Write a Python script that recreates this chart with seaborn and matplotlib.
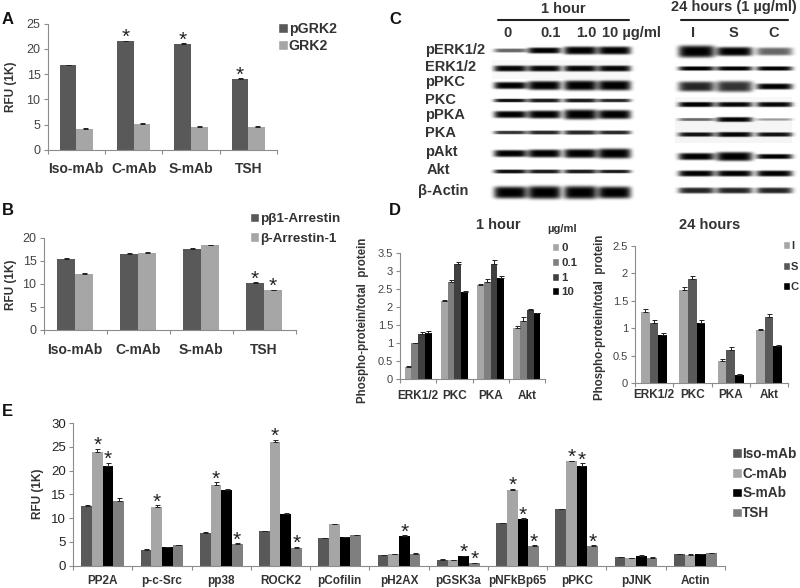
import numpy as np
import pandas as pd
import matplotlib
matplotlib.use("Agg")
import matplotlib.pyplot as plt
from matplotlib.container import BarContainer
import seaborn as sns

W, H = 800, 588
DARK, LIGHT, MID, BLACK = "#595959", "#a6a6a6", "#7f7f7f", "#000000"
TXT = "#333333"
AXC = "#8c8c8c"

# panel A
a_groups = ["Iso-mAb", "C-mAb", "S-mAb", "TSH"]
a_pgrk2 = [16.8, 21.5, 21.0, 14.0]
a_grk2 = [4.2, 5.2, 4.6, 4.6]
a_err_p = [0.05, 0.1, 0.05, 0.15]
a_err_g = [0.05, 0.1, 0.05, 0.05]
a_star_p = [0, 1, 1, 1]

# panel B
b_parr = [15.5, 16.6, 17.6, 10.2]
b_arr = [12.2, 16.8, 18.5, 8.6]
b_err_p = [0.15, 0.05, 0.15, 0.15]
b_err_a = [0.15, 0.15, 0.05, 0.1]
b_star_p = [0, 0, 0, 1]
b_star_a = [0, 0, 0, 1]

# panel D
d_groups = ["ERK1/2", "PKC", "PKA", "Akt"]
d1_0 = [0.33, 2.17, 2.6, 1.42]
d1_01 = [1.0, 2.7, 2.7, 1.62]
d1_1 = [1.25, 3.2, 3.18, 1.9]
d1_10 = [1.28, 2.42, 2.8, 1.82]
d1_err_0 = [0.02, 0.03, 0.03, 0.05]
d1_err_01 = [0.01, 0.04, 0.06, 0.1]
d1_err_1 = [0.04, 0.04, 0.12, 0.05]
d1_err_10 = [0.06, 0.03, 0.05, 0.02]
d2_i = [1.3, 1.7, 0.4, 0.97]
d2_s = [1.1, 1.9, 0.6, 1.2]
d2_c = [0.88, 1.1, 0.15, 0.67]
d2_err_i = [0.05, 0.05, 0.03, 0.01]
d2_err_s = [0.05, 0.04, 0.05, 0.05]
d2_err_c = [0.03, 0.05, 0.02, 0.02]

# panel E
e_groups = ["PP2A", "p-c-Src", "pp38", "ROCK2", "pCofilin", "pH2AX", "pGSK3a",
            "pNFkBp65", "pPKC", "pJNK", "Actin"]
e_iso = [12.5, 3.4, 6.9, 7.2, 5.8, 2.2, 1.3, 8.9, 11.9, 1.8, 2.4]
e_c = [23.8, 12.3, 17.0, 26.0, 8.7, 2.4, 1.2, 16.0, 22.0, 1.6, 2.3]
e_s = [21.0, 3.9, 16.0, 10.9, 6.0, 6.3, 2.0, 9.9, 21.0, 2.1, 2.5]
e_tsh = [13.5, 4.3, 4.6, 3.8, 6.4, 2.5, 0.5, 4.2, 4.2, 1.7, 2.6]
e_err_iso = [0.3, 0.05, 0.1, 0.05, 0.1, 0.1, 0.05, 0.05, 0.05, 0.1, 0.1]
e_err_c = [0.7, 0.4, 0.5, 0.4, 0.05, 0.1, 0.05, 0.1, 0.1, 0.05, 0.1]
e_err_s = [0.6, 0.1, 0.1, 0.1, 0.1, 0.05, 0.05, 0.05, 0.5, 0.1, 0.05]
e_err_tsh = [0.8, 0.1, 0.1, 0.1, 0.1, 0.1, 0.1, 0.1, 0.1, 0.1, 0.1]
e_star_c = [1, 1, 1, 1, 0, 0, 0, 1, 1, 0, 0]
e_star_s = [1, 0, 0, 0, 0, 1, 1, 1, 1, 0, 0]
e_star_tsh = [0, 0, 1, 1, 0, 0, 1, 1, 1, 0, 0]

# panel C: band half-thickness (px) and darkness per lane
blot_rows = ["pERK1/2", "ERK1/2", "pPKC", "PKC", "pPKA", "PKA", "pAkt", "Akt", "β-Actin"]
blot_1h_thick = [[2.0, 3.0, 4.0, 4.0], [3.0, 3.0, 3.0, 3.0], [3.5, 4.5, 5.0, 5.0],
                 [1.8, 2.0, 2.0, 1.8], [3.5, 4.0, 5.0, 4.5], [1.8, 2.0, 2.2, 2.0],
                 [3.5, 4.0, 4.5, 5.0], [2.0, 2.0, 2.0, 1.8], [6.0, 6.5, 6.5, 6.0]]
blot_1h_dark = [[0.6, 1.0, 1.0, 1.0], [0.95, 0.95, 0.95, 0.95], [1.0, 1.0, 1.0, 1.0],
                [0.95, 0.9, 0.9, 0.85], [1.0, 1.0, 1.0, 1.0], [0.8, 0.85, 0.85, 0.85],
                [1.0, 1.0, 1.0, 1.0], [0.95, 0.9, 0.9, 0.9], [1.0, 1.0, 1.0, 1.0]]
blot_24h_thick = [[6.0, 4.5, 4.0], [2.2, 2.2, 2.2], [5.0, 5.5, 3.0], [2.5, 2.5, 2.5],
                  [1.5, 2.5, 1.2], [2.2, 2.5, 2.2], [3.5, 4.5, 2.5], [3.0, 3.0, 3.0],
                  [3.0, 3.0, 3.0]]
blot_24h_dark = [[1.0, 1.0, 0.6], [1.0, 1.0, 1.0], [0.85, 0.8, 1.0], [1.0, 0.95, 0.95],
                 [0.55, 0.95, 0.35], [0.9, 0.95, 0.9], [1.0, 1.0, 1.0], [1.0, 1.0, 1.0],
                 [0.85, 0.85, 0.85]]
lanes_1h = ["0", "0.1", "1.0", "10 µg/ml"]
lanes_24h = ["I", "S", "C"]

sns.set_theme(style="white", rc={"axes.linewidth": 0.8})
plt.rcParams["font.family"] = ["Liberation Sans", "DejaVu Sans"]
fig = plt.figure(figsize=(W / 100, H / 100), dpi=100, facecolor="white")


def px_text(x, y, s, size=10, ha="left", va="center", color=TXT, weight="bold", **kw):
    fig.text(x / W, 1 - y / H, s, fontsize=size, ha=ha, va=va, color=color,
             fontweight=weight, **kw)


def bars_of(ax):
    return [c for c in ax.containers if isinstance(c, BarContainer)]


def panel(box, groups, series, errs, stars, colors, ymax, ystep, width, xsize, ysize,
          xpad=6, star_size=15, ycolor="#444444"):
    left, top, right, bottom = box
    ax = fig.add_axes([left / W, 1 - bottom / H, (right - left) / W, (bottom - top) / H])
    df = pd.DataFrame({
        "group": [g for _ in series for g in groups],
        "name": [n for n in series for _ in groups],
        "value": [v for vals in series.values() for v in vals],
    })
    sns.barplot(df, x="group", y="value", hue="name", palette=colors, width=width,
                errorbar=None, saturation=1, dodge=True, ax=ax, gap=0, linewidth=0)
    for cont, err, star in zip(bars_of(ax), errs, stars):
        for bar, e, s in zip(cont, err, star):
            xc = bar.get_x() + bar.get_width() / 2
            h = bar.get_height()
            ax.errorbar(xc, h, yerr=[[0], [e]], color="#222222", lw=0.7, capsize=1.8,
                        capthick=0.7)
            if s:
                ax.annotate("*", (xc, h + e), xytext=(0, -1.5), textcoords="offset points",
                            ha="center", va="baseline", fontsize=star_size,
                            color="#222222", annotation_clip=False)
    n = len(groups)
    ax.set_xlim(-0.5, n - 0.5)
    ax.set_ylim(0, ymax)
    ax.set_xlabel("")
    ax.set_ylabel("")
    ax.set_yticks(np.arange(0, ymax + ystep / 2, ystep))
    ax.set_yticklabels([f"{t:g}" for t in np.arange(0, ymax + ystep / 2, ystep)],
                       fontsize=ysize, color=ycolor)
    ax.set_xticks(np.arange(-0.5, n), minor=True)
    ax.set_xticks(range(n))
    ax.set_xticklabels(groups, fontsize=xsize, fontweight="bold", color=TXT)
    ax.tick_params(axis="x", which="major", length=0, pad=xpad)
    ax.tick_params(axis="x", which="minor", length=3, width=0.8, color=AXC, bottom=True)
    ax.tick_params(axis="y", length=3, width=0.8, color=AXC, left=True, pad=2)
    for side in ("top", "right"):
        ax.spines[side].set_visible(False)
    for side in ("left", "bottom"):
        ax.spines[side].set_color(AXC)
    ax.patch.set_alpha(0)
    ax.get_legend().remove()
    return ax


def px_legend(ax, x, y, size, spacing, names, pad=0.25, hl=0.7):
    handles = [plt.Rectangle((0, 0), 1, 1, fc=c[0].get_facecolor()) for c in bars_of(ax)]
    ax.legend(handles, names, loc="upper left", bbox_to_anchor=(x / W, 1 - y / H),
              bbox_transform=fig.transFigure, frameon=False, borderaxespad=0, borderpad=0,
              handlelength=hl, handleheight=hl, handletextpad=pad, labelspacing=spacing,
              prop={"size": size, "weight": "bold"}, labelcolor=TXT)


# blots
blot = fig.add_axes([0, 0, 1, 1], zorder=0)
yy, xx = np.mgrid[0:H, 0:W]
img = np.ones((H, W))
img[60:79, 492:630] = 0.97
img[118:143, 675:792] = 0.96
img[97:108, 675:792] = 0.97
y_1h = [50, 68, 85, 100, 114, 132, 153, 171, 192]
x_1h = [510, 544, 580, 614]
y_24h = [51, 68, 86, 104, 119, 134, 156, 173, 190]
x_24h = [696, 734, 774]
for ys, xs, thick, dark, hw in ((y_1h, x_1h, blot_1h_thick, blot_1h_dark, 16.5),
                                (y_24h, x_24h, blot_24h_thick, blot_24h_dark, 18)):
    for yc, t_row, d_row in zip(ys, thick, dark):
        for xc, t, d in zip(xs, t_row, d_row):
            band = np.exp(-np.abs((xx - xc) / hw) ** 6) * np.exp(-np.abs((yy - yc) / t) ** 4)
            img -= d * band
blot.imshow(np.clip(img, 0, 1), cmap="gray", vmin=0, vmax=1, extent=(0, W, H, 0),
            aspect="auto", interpolation="bilinear")
blot.set_axis_off()
blot.plot([498, 629], [20, 20], color="#222222", lw=1.5)
blot.plot([681, 788], [20, 20], color="#222222", lw=1.5)
blot.set_xlim(0, W)
blot.set_ylim(H, 0)

row_x = [425, 425, 425, 425, 425, 425, 425, 427, 418]
row_y = [50, 67, 82, 100, 115, 133, 152, 170, 191]
for name, xp, yp in zip(blot_rows, row_x, row_y):
    px_text(xp, yp, name, size=10.5)
px_text(563, 9, "1 hour", size=10.5, ha="center")
px_text(734, 7, "24 hours (1 µg/ml)", size=10.5, ha="center")
for xp, s in zip([507, 551, 586], lanes_1h[:3]):
    px_text(xp, 33, s, size=10.5, ha="center")
px_text(602, 33, lanes_1h[3], size=10.5)
for xp, s in zip([693, 733, 774], lanes_24h):
    px_text(xp, 33, s, size=10.5, ha="center")

# A
ax = panel((47.5, 23.5, 277, 150), a_groups, {"pGRK2": a_pgrk2, "GRK2": a_grk2},
           [a_err_p, a_err_g], [a_star_p, [0] * 4], [DARK, LIGHT], 25, 5, 0.58, 10, 9, xpad=9)
px_legend(ax, 278, 22, 10.2, 0.22, ["pGRK2", "GRK2"], pad=0.05)
# B
ax = panel((43.5, 238, 295.5, 330), a_groups, {"pβ1-Arrestin": b_parr, "β-Arrestin-1": b_arr},
           [b_err_p, b_err_a], [b_star_p, b_star_a], [DARK, LIGHT], 20, 5, 0.58, 10, 9, xpad=9)
px_legend(ax, 250, 213, 9.7, 0.5, ["pβ1-Arrestin", "β-Arrestin-1"], pad=0.05)
# D
ax = panel((400, 252.7, 545, 379), d_groups,
           {"0": d1_0, "0.1": d1_01, "1": d1_1, "10": d1_10},
           [d1_err_0, d1_err_01, d1_err_1, d1_err_10], [[0] * 4] * 4,
           [LIGHT, MID, "#404040", BLACK], 3.5, 0.5, 0.75, 8.5, 8, xpad=8)
px_legend(ax, 551.5, 243, 8.2, 0.42, ["0", "0.1", "1", "10"], pad=0.15)
ax = panel((635, 245.7, 788, 383), d_groups, {"I": d2_i, "S": d2_s, "C": d2_c},
           [d2_err_i, d2_err_s, d2_err_c], [[0] * 4] * 3,
           [LIGHT, DARK, BLACK], 2.5, 0.5, 0.68, 8.5, 8, xpad=4)
px_legend(ax, 782.5, 241, 8, 0.95, ["I", "S", "C"], pad=0.05)
# E
ax = panel((73, 423, 725, 565.7), e_groups,
           {"Iso-mAb": e_iso, "C-mAb": e_c, "S-mAb": e_s, "TSH": e_tsh},
           [e_err_iso, e_err_c, e_err_s, e_err_tsh],
           [[0] * 11, e_star_c, e_star_s, e_star_tsh],
           [DARK, LIGHT, BLACK, MID], 30, 5, 0.72, 8.5, 9.5, xpad=7, ycolor="#222222")
px_legend(ax, 732, 447, 9.8, 0.42, ["Iso-mAb", "C-mAb", "S-mAb", "TSH"], pad=0.05)

# y labels and panel letters
for xp, yp, s, size in ((11, 87, "RFU (1K)", 8.5), (11, 285, "RFU (1K)", 8.5), (38, 494, "RFU (1K)", 8.5),
                        (363, 320, "Phospho-protein/total  protein", 8.3),
                        (600, 317, "Phospho-protein/total  protein", 8.3)):
    px_text(xp, yp, s, size=size, ha="center", rotation=90)
for xp, yp, s in ((2, 20, "A"), (2, 210, "B"), (389, 20, "C"), (389, 210, "D"), (2, 411, "E")):
    px_text(xp, yp, s, size=12, color="#111111")
px_text(498, 225, "1 hour", size=10.5, ha="center")
px_text(710, 225, "24 hours", size=10.5, ha="center")
px_text(562, 229, "µg/ml", size=8, ha="center")

fig.savefig("out.png", dpi=100)
